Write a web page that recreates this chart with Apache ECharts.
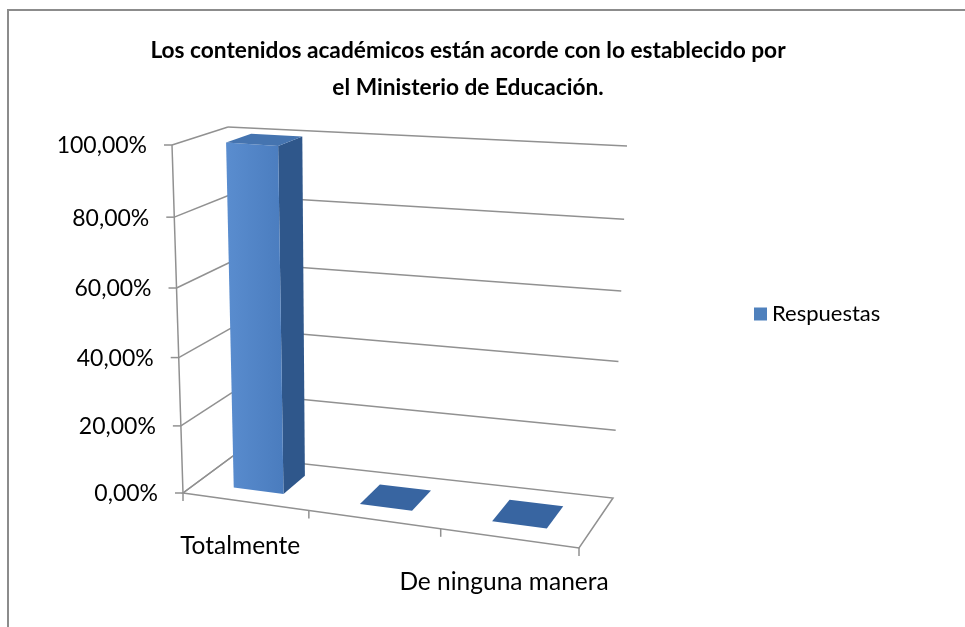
<!DOCTYPE html>
<html>
<head>
<meta charset="utf-8">
<script src="https://cdn.jsdelivr.net/npm/echarts@6/dist/echarts.min.js"></script>
<style>
  html, body { margin: 0; padding: 0; background: #fff; }
  #chart { width: 965px; height: 627px; }
</style>
</head>
<body>
<div id="chart"></div>
<script>
const categories = ['Totalmente', 'Parcialmente', 'De ninguna manera'];
// Excel only printed every other category label
const shownLabels = ['Totalmente', '', 'De ninguna manera'];
const respuestas = [100, 0, 0];
const yTicks = [0, 20, 40, 60, 80, 100];

const FONT = 'Lato';

// unit square -> quad (perspective), corners: (0,0) (1,0) (1,1) (0,1)
function sq2quad(p) {
  const [x0, y0] = p[0], [x1, y1] = p[1], [x2, y2] = p[2], [x3, y3] = p[3];
  const sx = x0 - x1 + x2 - x3, sy = y0 - y1 + y2 - y3;
  const dx1 = x1 - x2, dx2 = x3 - x2, dy1 = y1 - y2, dy2 = y3 - y2;
  const den = dx1 * dy2 - dx2 * dy1;
  const g = (sx * dy2 - dx2 * sy) / den;
  const h = (dx1 * sy - sx * dy1) / den;
  const a = x1 - x0 + g * x1, b = x3 - x0 + h * x3, c = x0;
  const d = y1 - y0 + g * y1, e = y3 - y0 + h * y3, f = y0;
  return (u, v) => {
    const w = g * u + h * v + 1;
    return [(a * u + b * v + c) / w, (d * u + e * v + f) / w];
  };
}

// box geometry of the 3d plot area (front plane and back wall)
const FRONT = sq2quad([[183, 493], [579, 548], [587, 176], [172, 145]]);
const BACK = sq2quad([[233, 456], [613, 498], [627, 146], [228, 127]]);
function proj(u, v, w) {
  const f = FRONT(u, v), b = BACK(u, v);
  return [f[0] + (b[0] - f[0]) * w, f[1] + (b[1] - f[1]) * w];
}

const lineStyle = { stroke: '#919191', lineWidth: 1.5 };
const fmt = v => v.toFixed(2).replace('.', ',') + '%';

function toUV(params, pt) {
  const cs = params.coordSys;
  return [(pt[0] - cs.x) / cs.width, (cs.y + cs.height - pt[1]) / cs.height];
}

function renderFrame(params, api) {
  const t = api.value(1);
  const v = toUV(params, api.coord([0, t]))[1];
  const f = proj(0, v, 0), b = proj(0, v, 1), br = proj(1, v, 1);
  const children = [
    { type: 'line', shape: { x1: f[0], y1: f[1], x2: b[0], y2: b[1] }, style: lineStyle },
    { type: 'line', shape: { x1: f[0] - 8, y1: f[1], x2: f[0], y2: f[1] }, style: lineStyle },
    {
      type: 'text', x: f[0] - 25, y: f[1] + 1,
      style: { text: fmt(t), fontFamily: FONT, fontSize: 23, fill: '#000', align: 'right', verticalAlign: 'middle' }
    }
  ];
  if (t > 0) {
    children.push({ type: 'line', shape: { x1: b[0], y1: b[1], x2: br[0], y2: br[1] }, style: lineStyle });
  } else {
    // floor outline + front axis line + category ticks
    const fbl = proj(0, 0, 0), fbr = proj(1, 0, 0), bbr = proj(1, 0, 1), bbl = proj(0, 0, 1);
    children.push({
      type: 'polygon',
      shape: { points: [fbl, fbr, bbr, bbl] },
      style: { fill: 'none', stroke: lineStyle.stroke, lineWidth: lineStyle.lineWidth }
    });
    const top = proj(0, 1, 0);
    children.push({ type: 'line', shape: { x1: fbl[0], y1: fbl[1], x2: top[0], y2: top[1] }, style: lineStyle });
    const n = categories.length;
    for (let i = 0; i <= n; i++) {
      const p = proj(i / n, 0, 0);
      children.push({ type: 'line', shape: { x1: p[0], y1: p[1], x2: p[0], y2: p[1] + 8 }, style: lineStyle });
    }
  }
  return { type: 'group', children: children };
}

function renderBar(params, api) {
  const cs = params.coordSys;
  const idx = api.value(0);
  const c = api.coord([idx, api.value(1)]);
  const slot = api.size([1, 0])[0] / cs.width;
  const uv = toUV(params, c);
  const uc = uv[0], v = uv[1];
  const half = slot * 0.2;
  const u0 = uc - half, u1 = uc + half, w0 = 0.28, w1 = 0.74;
  const children = [];
  if (v > 0.001) {
    children.push({
      type: 'polygon',
      shape: { points: [proj(u1, 0, w0), proj(u1, 0, w1), proj(u1, v, w1), proj(u1, v, w0)] },
      style: { fill: '#2f578b' }
    });
    children.push({
      type: 'polygon',
      shape: { points: [proj(u0, 0, w0), proj(u1, 0, w0), proj(u1, v, w0), proj(u0, v, w0)] },
      style: {
        fill: new echarts.graphic.LinearGradient(0, 0, 1, 0, [
          { offset: 0, color: '#5a8dcf' },
          { offset: 1, color: '#4a7cbe' }
        ])
      }
    });
  }
  children.push({
    type: 'polygon',
    shape: { points: [proj(u0, v, w0), proj(u1, v, w0), proj(u1, v, w1), proj(u0, v, w1)] },
    style: { fill: v > 0.001 ? '#4574b0' : '#3865a1' }
  });
  const lp = proj(uc, 0, 0);
  if (shownLabels[idx]) {
    children.push({
      type: 'text', x: lp[0] - 5, y: lp[1] + 44,
      style: { text: shownLabels[idx], fontFamily: FONT, fontSize: 24.5, fill: '#000', align: 'center', verticalAlign: 'middle' }
    });
  }
  return { type: 'group', children: children };
}

const chart = echarts.init(document.getElementById('chart'));
chart.setOption({
  animation: false,
  backgroundColor: '#fff',
  title: {
    text: 'Los contenidos académicos están acorde con lo establecido por\nel Ministerio de Educación.',
    left: 468,
    top: 32,
    textAlign: 'center',
    padding: 0,
    textStyle: { fontFamily: FONT, fontSize: 22.7, fontWeight: 'bold', color: '#000', lineHeight: 37 }
  },
  legend: {
    data: ['Respuestas'],
    left: 749,
    top: 298,
    icon: 'rect',
    itemWidth: 13,
    itemHeight: 13,
    itemGap: 6,
    textStyle: { fontFamily: FONT, fontSize: 22, color: '#000' }
  },
  graphic: [{
    type: 'rect',
    shape: { x: 8, y: 10, width: 1000, height: 700 },
    style: { fill: 'none', stroke: '#8c8c8c', lineWidth: 2 },
    silent: true
  }],
  grid: { left: 0, top: 0, width: 300, height: 300, show: false },
  xAxis: { type: 'category', data: categories, show: false },
  yAxis: { type: 'value', min: 0, max: 100, interval: 20, show: false },
  series: [
    {
      type: 'custom',
      silent: true,
      z: 1,
      renderItem: renderFrame,
      data: yTicks.map(t => [0, t])
    },
    {
      name: 'Respuestas',
      type: 'custom',
      z: 2,
      itemStyle: { color: '#4f81bd' },
      renderItem: renderBar,
      encode: { x: 0, y: 1 },
      data: respuestas.map((v, i) => [i, v])
    }
  ]
});
</script>
</body>
</html>
